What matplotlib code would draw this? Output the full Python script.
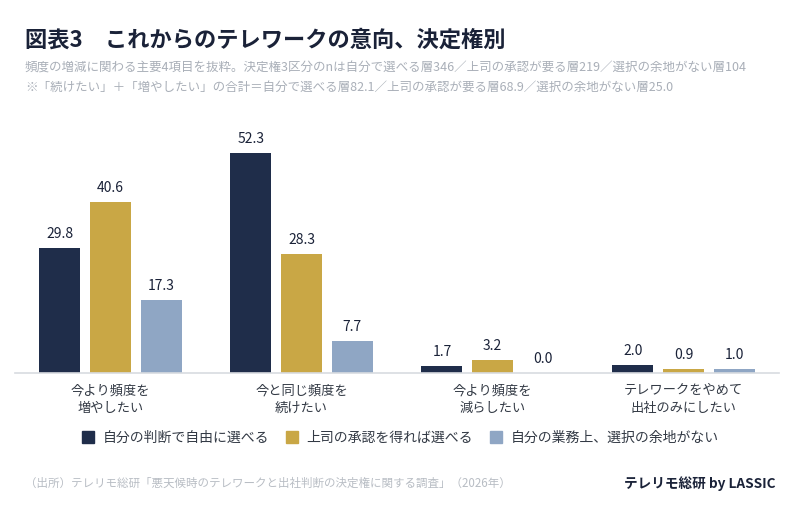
import matplotlib
matplotlib.use("Agg")
import matplotlib.pyplot as plt
import numpy as np
from matplotlib.patches import Rectangle

plt.rcParams['font.family'] = ['Noto Sans CJK JP', 'DejaVu Sans']

categories = ["今より頻度を\n増やしたい", "今と同じ頻度を\n続けたい", "今より頻度を\n減らしたい", "テレワークをやめて\n出社のみにしたい"]
series_names = ["自分の判断で自由に選べる", "上司の承認を得れば選べる", "自分の業務上、選択の余地がない"]
free_vals = [29.8, 52.3, 1.7, 2.0]
approval_vals = [40.6, 28.3, 3.2, 0.9]
none_vals = [17.3, 7.7, 0.0, 1.0]
colors = ["#1f2d4a", "#c9a745", "#8fa6c4"]

title = "図表3　これからのテレワークの意向、決定権別"
sub1 = "頻度の増減に関わる主要4項目を抜粋。決定権3区分のnは自分で選べる層346／上司の承認が要る層219／選択の余地がない層104"
sub2 = "※「続けたい」＋「増やしたい」の合計＝自分で選べる層82.1／上司の承認が要る層68.9／選択の余地がない層25.0"
source = "（出所）テレリモ総研「悪天候時のテレワークと出社判断の決定権に関する調査」（2026年）"
brand = "テレリモ総研 by LASSIC"

fig = plt.figure(figsize=(8, 5.05), dpi=100)
ax = fig.add_axes([15/800, 1-373/505, 764/800, 252.6/505])

x = np.arange(len(categories))
w = 0.215
off = 0.265
for i, (vals, c) in enumerate(zip([free_vals, approval_vals, none_vals], colors)):
    bars = ax.bar(x + (i-1)*off, vals, w, color=c, label=series_names[i], zorder=2)
    for b, v in zip(bars, vals):
        ax.text(b.get_x()+b.get_width()/2, v + 1.6, f"{v:.1f}", ha='center', va='bottom',
                fontsize=10, color="#1a2238")

ax.set_xlim(-0.5, 3.5)
ax.set_ylim(0, 60)
for s in ['top', 'right', 'left']:
    ax.spines[s].set_visible(False)
ax.spines['bottom'].set_color('#d8dbe0')
ax.spines['bottom'].set_linewidth(1.2)
ax.set_yticks([])
ax.set_xticks(x)
ax.set_xticklabels(categories, fontsize=9.5, color="#333a45", linespacing=1.5)
ax.tick_params(axis='x', length=0, pad=8)

fig.text(25/800, 1-40/505, title, fontsize=16, fontweight='bold', color="#1a2238", va='center', ha='left')
fig.text(25/800, 1-68/505, sub1, fontsize=9, color="#a9afb8", va='center', ha='left')
fig.text(25/800, 1-87/505, sub2, fontsize=9, color="#a9afb8", va='center', ha='left')

handles = [Rectangle((0, 0), 1, 1, color=c) for c in colors]
fig.legend(handles, series_names, loc='center', bbox_to_anchor=(0.5, 1-438/505), ncol=3,
           frameon=False, fontsize=10, handlelength=0.9, handleheight=0.9, columnspacing=1.2,
           handletextpad=0.6, labelcolor="#333a45")

fig.text(25/800, 1-483/505, source, fontsize=8.3, color="#b8bdc4", va='center', ha='left')
fig.text(776/800, 1-484/505, brand, fontsize=9.8, fontweight='bold', color="#1a2238", va='center', ha='right')

fig.savefig("out.png", dpi=100, facecolor='white')
